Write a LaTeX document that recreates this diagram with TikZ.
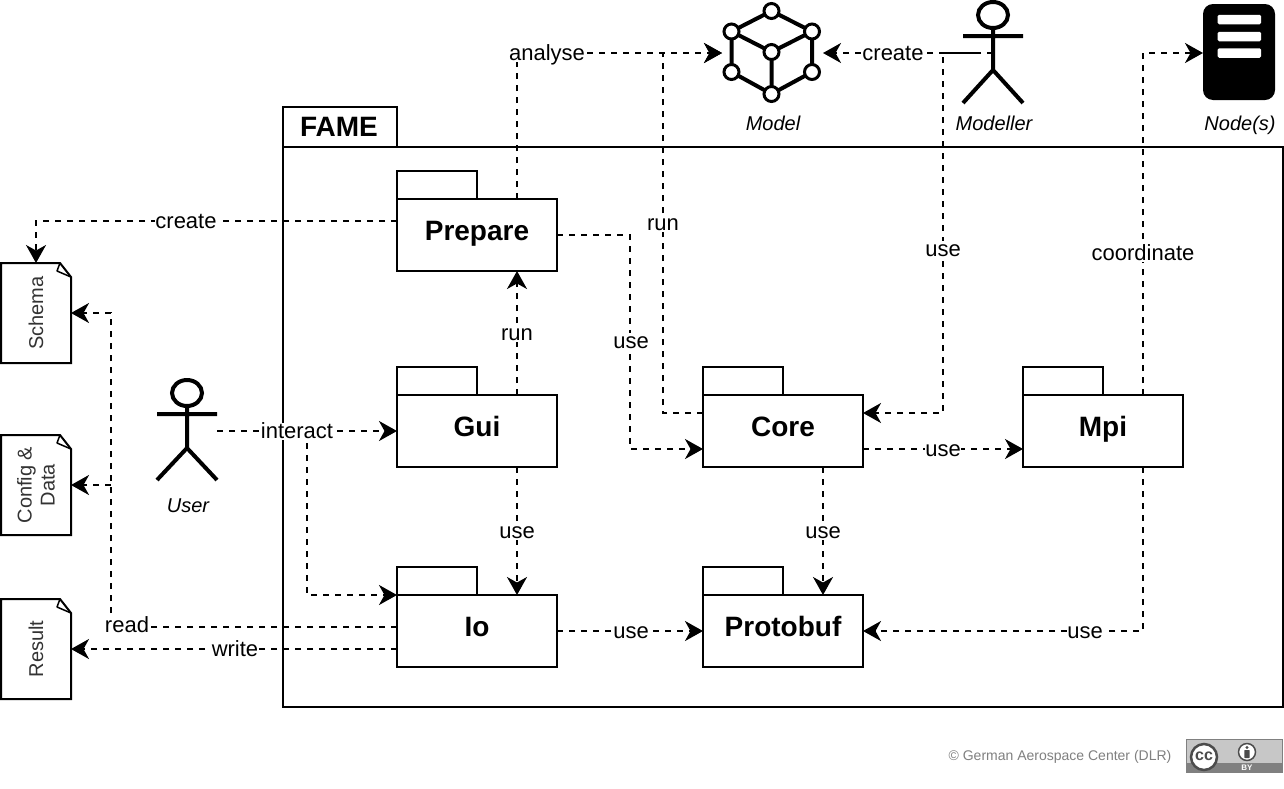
\documentclass[tikz,border=0pt]{standalone}
\usepackage{fontspec}
\setmainfont{Liberation Sans}
\usetikzlibrary{arrows.meta}
\newcommand{\fs}[1]{\fontsize{#1}{#1}\selectfont}
\tikzset{
  conn/.style={line width=2pt,dash pattern=on 6pt off 6pt,-{Stealth[length=18pt,width=20pt,inset=5.5pt]}},
  lab/.style={fill=white,inner sep=0.5pt,font=\fs{22},text height=15pt,text depth=1pt},
  pkg/.style={draw,line width=2pt,fill=white,minimum width=160pt,minimum height=72pt,inner sep=0pt,outer sep=0pt,font=\fs{28}\bfseries,text height=10pt,text depth=0pt},
  pkgline/.style={draw,line width=2pt,fill=white},
  ghost/.style={inner sep=0pt,outer sep=0pt},
  actor/.style={line width=4pt},
  iconlab/.style={font=\fs{20}\itshape,inner sep=0pt,text height=14pt,text depth=0pt},
  docbox/.style={inner sep=0pt,outer sep=0pt,minimum width=100pt,minimum height=70pt,font=\fontsize{20}{23}\selectfont,rotate=90,align=center,text=black!80},
  docline/.style={line width=2pt,line join=miter},
  cube/.style={line width=4pt},
}
\begin{document}
\begin{tikzpicture}[x=1pt,y=-1pt]
\useasboundingbox (0,0) rectangle (1284,788);
\fill[white] (0,0) rectangle (1284,788);

% frame
\draw[line width=2pt] (283,147) rectangle (1283,707);
\node[draw,line width=2pt,minimum width=114pt,minimum height=40pt,inner sep=0pt,outer sep=0pt,font=\fs{28}\bfseries] (fame) at (340,127) {\hspace*{-2pt}FAME};

% packages
\node[pkg] (prepare) at (477,235) {Prepare};
\node[pkg] (gui) at (477,431) {Gui};
\node[pkg] (io) at (477,631) {Io};
\node[pkg] (core) at (783,431) {Core};
\node[pkg] (mpi) at (1103,431) {Mpi};
\node[pkg] (protobuf) at (783,631) {Protobuf};
\foreach \p in {prepare,gui,io,core,mpi,protobuf}
  \draw[pkgline] (\p.north west) rectangle ++(80,-28);

% model icon
\node[ghost,minimum width=101pt,minimum height=100pt] (model) at (772.5,53) {};
\node[iconlab] (modellab) at (773,123) {Model};
\coordinate (mT) at (771.5,11);
\coordinate (mA) at (731.5,31.5);
\coordinate (mB) at (812,31.5);
\coordinate (mC) at (771.5,52);
\coordinate (mD) at (731.5,72);
\coordinate (mE) at (812,72);
\coordinate (mF) at (771.5,94);
\draw[cube,line join=round] (mT)--(mA)--(mD)--(mF)--(mE)--(mB)--cycle (mA)--(mC)--(mB) (mC)--(mF);
\foreach \c in {mT,mA,mB,mC,mD,mE,mF}
  \draw[line width=3pt,fill=white] (\c) circle (7.5pt);

% modeller
\node[ghost,minimum width=60pt,minimum height=100pt] (modeller) at (993,53) {};
\node[iconlab] (modellerlab) at (994,123) {Modeller};
\draw[actor] (993,15) ellipse (15pt and 13pt);
\draw[actor] (963,36)--(1023,36) (993,28)--(993,70) (963,103)--(993,70)--(1023,103);

% user
\node[ghost,minimum width=60pt,minimum height=100pt] (user) at (187,431) {};
\node[iconlab] (userlab) at (188,505) {User};
\draw[actor] (187,393) ellipse (15pt and 13pt);
\draw[actor] (157,414)--(217,414) (187,406)--(187,448) (157,480)--(187,448)--(217,480);

% server
\node[fill=black,rounded corners=10pt,minimum width=72pt,minimum height=96pt,inner sep=0pt,outer sep=0pt] (nodes) at (1239,52) {};
\node[iconlab] (nodeslab) at (1240,123) {Node(s)};
\foreach \yy in {19.5,36.5,53}
  \fill[white,rounded corners=1.5pt] (1217.5,\yy-4.75) rectangle (1261,\yy+4.75);

% documents
\node[docbox] (schema) at (36,313) {Schema};
\node[docbox] (config) at (36,485) {Config \&\\Data};
\node[docbox] (result) at (36,649) {Result};
\foreach \d/\t/\b in {schema/263/363,config/435/535,result/599/699}{
  \draw[docline] (60,\t)--(1,\t)--(1,\b)--(71,\b)--(71,\t+14)--cycle;
  \draw[line width=1.5pt,line join=round] (60,\t)--(57,\t+8)--(71,\t+14);
}

% connectors
\draw[conn] ([xshift=40pt]prepare.north) -- (517,53) -- (model.west);
\draw[conn] ([yshift=14pt]prepare.west) -- (36,221) -- (schema.east);
\draw[conn] (prepare.east) -- (630,235) -- (630,449) -- ([yshift=-18pt]core.west);
\draw[conn] ([xshift=40pt]gui.north) -- ([xshift=40pt]prepare.south);
\draw[conn] ([xshift=40pt]gui.south) -- ([xshift=40pt]io.north);
\draw[conn] (user.east) -- (gui.west);
\draw[conn] (307,431) -- (307,595) -- ([yshift=36pt]io.west);
\draw[conn] ([yshift=4pt]io.west) -- (111,627) -- (111,313) -- (schema.south);
\draw[conn] (111,485) -- (config.south);
\draw[conn] ([yshift=-18pt]io.west) -- (result.south);
\draw[conn] (io.east) -- (protobuf.west);
\draw[conn] ([yshift=18pt]core.west) -- (663,413) -- (663,53) -- (model.west);
\draw[conn] ([xshift=40pt]core.south) -- ([xshift=40pt]protobuf.north);
\draw[conn] ([yshift=-18pt]core.east) -- ([yshift=-18pt]mpi.west);
\draw[conn] ([xshift=40pt]mpi.south) -- (1143,631) -- (protobuf.east);
\draw[conn] ([xshift=40pt]mpi.north) -- (1143,53) -- ([yshift=-1pt]nodes.west);
\draw[conn] (modeller.center) -- (model.east);
\draw[conn,dash phase=9pt] ([xshift=-15pt]modeller.center) -- (943,53) -- (943,413) -- ([yshift=18pt]core.east);

% connector labels
\node[lab] (l1) at (547,53) {analyse};
\node[lab] (l2) at (186,221) {create};
\node[lab] (l3) at (631,341) {use};
\node[lab] (l4) at (517,333) {run};
\node[lab] (l5) at (517,531) {use};
\node[lab] (l6) at (297,431) {interact};
\node[lab] (l7) at (127,625) {read};
\node[lab] (l8) at (235,649) {write};
\node[lab] (l9) at (631,631) {use};
\node[lab] (l10) at (663,223) {run};
\node[lab] (l11) at (823,531) {use};
\node[lab] (l12) at (943,449) {use};
\node[lab] (l13) at (1085,631) {use};
\node[lab] (l14) at (1143,253) {coordinate};
\node[lab] (l15) at (893,53) {create};
\node[lab] (l16) at (943,249) {use};

% footer
\node[inner sep=0pt,font=\fs{14},text=black!50] (copy) at (1060,757) {© German Aerospace Center (DLR)};
\fill[black!22] (1186,739) rectangle (1282,772);
\fill[black!50] (1186,763) rectangle (1282,772);
\draw[black!50,line width=1pt] (1186,739) rectangle (1282,772);
\draw[black!70,line width=2.5pt,fill=white] (1204,757) circle (13pt);
\node[inner sep=0pt,font=\fs{16}\bfseries,text=black!70] (cc) at (1204,756) {cc};
\draw[black!70,line width=1.5pt,fill=white] (1247,752) circle (8.5pt);
\fill[black!70] (1247,747.5) circle (1.7pt);
\fill[black!70,rounded corners=0.5pt] (1244.3,750) rectangle (1249.7,758);
\node[inner sep=0pt,font=\fs{8}\bfseries,text=white] (by) at (1247,768) {BY};
\end{tikzpicture}
\end{document}
